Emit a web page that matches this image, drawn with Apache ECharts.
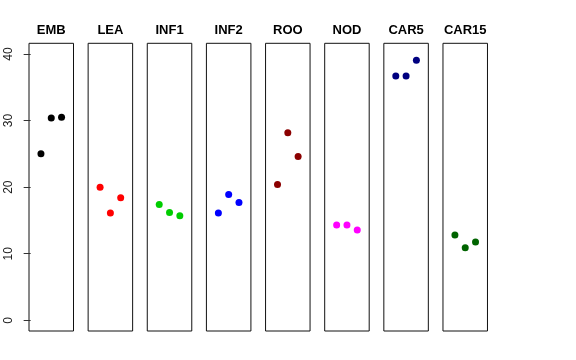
<!DOCTYPE html>
<html>
<head>
<meta charset="utf-8">
<script src="https://cdn.jsdelivr.net/npm/echarts@6/dist/echarts.min.js"></script>
<style>html,body{margin:0;padding:0;background:#fff}#c{width:576px;height:360px}</style>
</head>
<body>
<div id="c"></div>
<script>
var categories = ['EMB', 'LEA', 'INF1', 'INF2', 'ROO', 'NOD', 'CAR5', 'CAR15'];
var colors = ['#000000', '#FF0000', '#00CD00', '#0000FF', '#8B0000', '#FF00FF', '#000080', '#006400'];
var positions = [1, 2, 3];
var valuesEMB = [25.0, 30.4, 30.5];
var valuesLEA = [20.0, 16.1, 18.4];
var valuesINF1 = [17.4, 16.2, 15.7];
var valuesINF2 = [16.1, 18.9, 17.7];
var valuesROO = [20.4, 28.15, 24.6];
var valuesNOD = [14.3, 14.3, 13.55];
var valuesCAR5 = [36.7, 36.7, 39.05];
var valuesCAR15 = [12.8, 10.9, 11.75];
var yTicks = [0, 10, 20, 30, 40];

var allValues = [valuesEMB, valuesLEA, valuesINF1, valuesINF2, valuesROO, valuesNOD, valuesCAR5, valuesCAR15];

var grids = [], xAxes = [], yAxes = [], series = [];
var font = 'Liberation Sans, Arial, Helvetica, sans-serif';
for (var i = 0; i < categories.length; i++) {
  grids.push({
    left: 29 + i * 59.14, width: 44.5, top: 43.3, height: 287.7,
    show: true, borderColor: '#111', borderWidth: 1, backgroundColor: 'transparent'
  });
  xAxes.push({
    gridIndex: i, type: 'value', min: -0.16, max: 4.16, position: 'top',
    name: categories[i], nameLocation: 'middle', nameGap: 6,
    nameTextStyle: { fontFamily: font, fontWeight: 'bold', fontSize: 13, color: '#000' },
    axisLine: { show: false }, axisTick: { show: false }, axisLabel: { show: false }, splitLine: { show: false }
  });
  yAxes.push({
    gridIndex: i, type: 'value', min: -1.6, max: 41.6,
    axisLine: { show: false },
    axisTick: { show: i === 0, length: 7, lineStyle: { color: '#333' }, customValues: yTicks },
    axisLabel: { show: i === 0, rotate: 90, fontFamily: font, fontSize: 12, color: '#222', margin: 14, customValues: yTicks },
    splitLine: { show: false }
  });
  var pts = [];
  for (var j = 0; j < positions.length; j++) pts.push([positions[j], allValues[i][j]]);
  series.push({
    type: 'scatter', xAxisIndex: i, yAxisIndex: i, data: pts,
    symbol: 'circle', symbolSize: 7, itemStyle: { color: colors[i], opacity: 1 }, silent: true
  });
}

var chart = echarts.init(document.getElementById('c'), null, { renderer: 'canvas' });
chart.setOption({
  animation: false,
  backgroundColor: '#fff',
  grid: grids, xAxis: xAxes, yAxis: yAxes, series: series
});
</script>
</body>
</html>
